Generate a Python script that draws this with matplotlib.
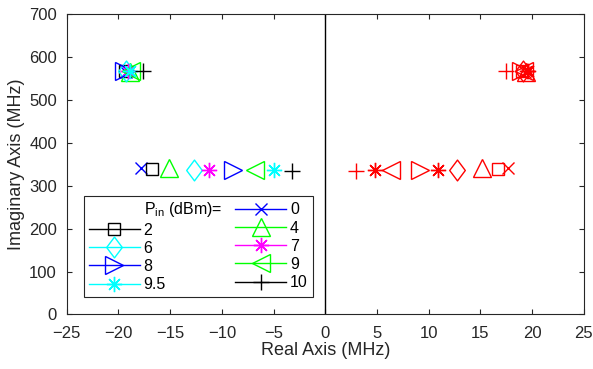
import matplotlib.pyplot as plt
from matplotlib.lines import Line2D
from matplotlib.path import Path

plt.rcParams['font.family'] = ['Liberation Sans', 'DejaVu Sans']

# input power levels (dBm) and pole locations (MHz)
pin = ['0', '2', '4', '6', '7', '8', '9', '9.5', '10']

re_low_left = [-17.8, -16.8, -15.1, -12.7, -11.2, -8.9, -6.8, -5.0, -3.2]
re_high_left = [-19.3, -19.4, -18.9, -19.3, -19.1, -19.5, -18.8, -18.9, -17.6]
re_low_right = [17.7, 16.7, 15.2, 12.7, 10.9, 9.2, 6.4, 4.8, 3.0]
re_high_right = [19.3, 19.0, 19.4, 19.1, 19.6, 18.9, 19.2, 19.5, 17.5]
im_low = [341, 339, 341, 337, 337, 337, 337, 336, 335]
im_high = [566, 567, 566, 567, 567, 568, 567, 568, 567]

diamond = Path([(0, 1), (0.75, 0), (0, -1), (-0.75, 0), (0, 1)], closed=True)
asterisk = (8, 2, 0)

green = '#00ff00'
cyan = '#00ffff'
magenta = '#ff00ff'
styles = [
    ('b', 'x', 9),
    ('k', 's', 8),
    (green, '^', 13),
    (cyan, diamond, 15),
    (magenta, asterisk, 11),
    ('b', '>', 13),
    (green, '<', 13),
    (cyan, asterisk, 11),
    ('k', '+', 11),
]

fig = plt.figure(figsize=(5.93, 3.69), dpi=100)
ax = fig.add_axes([0.1125, 0.1477, 0.872, 0.8144])

axcol = '#262626'
handles = {}
for i, (col, mk, ms) in enumerate(styles):
    ax.plot([re_low_left[i], re_high_left[i]], [im_low[i], im_high[i]],
            linestyle='none', marker=mk, ms=ms, mfc='none', mec=col, mew=1.0)
    ax.plot([re_low_right[i], re_high_right[i]], [im_low[i], im_high[i]],
            linestyle='none', marker=mk, ms=ms, mfc='none', mec='r', mew=1.0)
    handles[pin[i]] = Line2D([], [], color=col, lw=1.0, marker=mk, ms=ms,
                             mfc='none', mec=col, mew=1.0)

ax.axvline(0, color='k', lw=1.0)

ax.set_xlim(-25, 25)
ax.set_ylim(0, 700)
ax.set_xticks(range(-25, 26, 5))
ax.set_yticks(range(0, 701, 100))
ax.tick_params(direction='in', top=True, right=True, length=3.5, width=0.8,
               labelsize=12, colors=axcol, labelcolor=axcol)
ax.tick_params(axis='x', pad=8)
ax.tick_params(axis='y', pad=7)
for s in ax.spines.values():
    s.set_color(axcol)
    s.set_linewidth(0.8)
ax.set_xlabel('Real Axis (MHz)', fontsize=13, color=axcol, labelpad=1)
ax.set_ylabel('Imaginary Axis (MHz)', fontsize=13, color=axcol, labelpad=3)

header = Line2D([], [], linestyle='none', marker='none')
order = ['2', '6', '8', '9.5', '0', '4', '7', '9', '10']
leg = ax.legend([header] + [handles[k] for k in order],
                [r'P$_{\mathregular{in}}$ (dBm)='] + order,
                ncol=2, loc='lower left', bbox_to_anchor=(0.033, 0.058),
                borderaxespad=0, fontsize=11.5, handlelength=3.2,
                handletextpad=0.25, columnspacing=0.8, labelspacing=0.2,
                borderpad=0.3, fancybox=False, edgecolor=axcol, framealpha=1)
leg.get_frame().set_linewidth(0.8)

fig.savefig('out.png', dpi=100)
